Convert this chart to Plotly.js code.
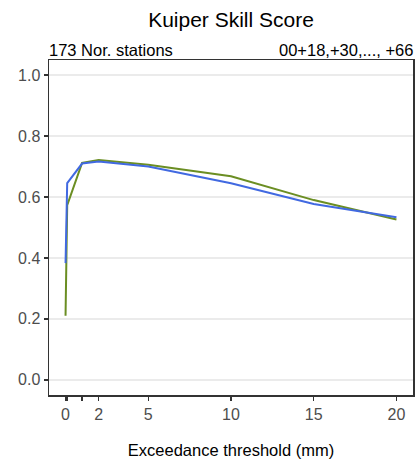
<!DOCTYPE html>
<html><head><meta charset="utf-8">
<script src="https://cdn.plot.ly/plotly-3.0.1.min.js"></script>
<style>html,body{margin:0;padding:0;background:#fff}#chart{width:415px;height:461px}</style>
</head><body><div id="chart"></div>
<script>
const thresholds = [0, 0.1, 1, 2, 5, 10, 15, 20];
const seriesGreen = [0.21, 0.573, 0.712, 0.722, 0.706, 0.668, 0.590, 0.526];
const seriesBlue = [0.383, 0.646, 0.710, 0.717, 0.700, 0.645, 0.577, 0.534];
const xTickVals = [0, 0.1, 1, 2, 5, 10, 15, 20];
const xTickText = ['0', '', '', '2', '5', '10', '15', '20'];
const yTickVals = [0, 0.2, 0.4, 0.6, 0.8, 1.0];
const yTickText = ['0.0', '0.2', '0.4', '0.6', '0.8', '1.0'];

const font = 'Liberation Sans, Arial, sans-serif';
const traces = [
  {x: thresholds, y: seriesGreen, mode: 'lines', line: {color: '#6B8E23', width: 2}, showlegend: false, hoverinfo: 'none'},
  {x: thresholds, y: seriesBlue, mode: 'lines', line: {color: '#4169E1', width: 2}, showlegend: false, hoverinfo: 'none'}
];
const layout = {
  width: 415, height: 461,
  margin: {l: 49, r: 2, t: 60, b: 66},
  paper_bgcolor: '#fff', plot_bgcolor: '#fff',
  font: {family: font, color: '#4d4d4d', size: 16},
  title: {text: 'Kuiper Skill Score', xref: 'paper', x: 0.5, xanchor: 'center', y: 1 - 20/461, yanchor: 'middle', yref: 'container', font: {family: font, size: 21, color: '#000'}},
  xaxis: {
    range: [-1, 21], tickmode: 'array', tickvals: xTickVals, ticktext: xTickText,
    ticks: 'outside', ticklen: 4, tickwidth: 1.5, tickcolor: '#333',
    showgrid: false, zeroline: false, showline: true, linecolor: '#333', linewidth: 1.5, mirror: true,
    tickfont: {family: font, size: 16, color: '#4d4d4d'},
    title: {text: 'Exceedance threshold (mm)', standoff: 22, font: {family: font, size: 16.5, color: '#000'}}
  },
  yaxis: {
    range: [-0.05, 1.05], tickmode: 'array', tickvals: yTickVals, ticktext: yTickText,
    ticks: 'outside', ticklen: 4, tickwidth: 1.5, tickcolor: '#333',
    showgrid: true, gridcolor: '#ebebeb', gridwidth: 1.5, zeroline: false,
    showline: true, linecolor: '#333', linewidth: 1.5, mirror: true,
    tickfont: {family: font, size: 16, color: '#4d4d4d'}
  },
  annotations: [
    {text: '173 Nor. stations', xref: 'paper', yref: 'paper', x: 0, y: 1, xanchor: 'left', yanchor: 'bottom', xshift: -2, yshift: -1, showarrow: false, font: {family: font, size: 16.5, color: '#000'}},
    {text: '00+18,+30,..., +66', xref: 'paper', yref: 'paper', x: 1, y: 1, xanchor: 'right', yanchor: 'bottom', xshift: 2, yshift: -1, showarrow: false, font: {family: font, size: 16.5, color: '#000'}}
  ]
};
Plotly.newPlot('chart', traces, layout, {displayModeBar: false, staticPlot: true});
</script></body></html>
